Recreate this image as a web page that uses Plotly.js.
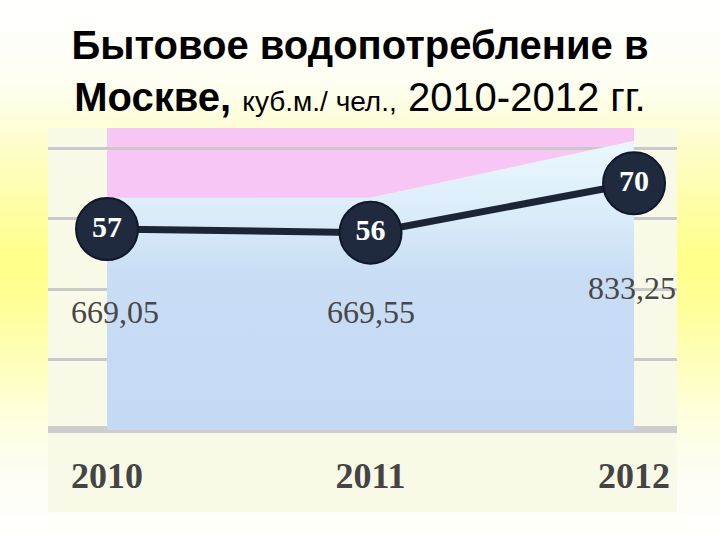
<!DOCTYPE html>
<html>
<head>
<meta charset="utf-8">
<script src="https://cdn.plot.ly/plotly-3.0.1.min.js"></script>
<style>
  html, body { margin: 0; padding: 0; }
  #wrap {
    width: 720px; height: 540px; position: relative;
    background: linear-gradient(to bottom,
      #ffffff 0%, #fefef2 15%, #fdfdd6 24%, #fefea8 37%, #ffff8a 48%,
      #ffff98 57%, #fefeb4 65%, #fefee0 78%, #fdfdf2 88%, #ffffff 100%);
  }
  #chart { width: 720px; height: 540px; }
</style>
</head>
<body>
<div id="wrap"><div id="chart"></div></div>
<script>
// ---- data ----
const years = [2010, 2011, 2012];
const yearLabels = ['2010', '2011', '2012'];
const perCapita = [57, 56, 70];                    // куб.м./чел. (line with markers)
const consumption = [669.05, 669.55, 833.25];      // area series
const consumptionLabels = ['669,05', '669,55', '833,25'];
const footer = 'Яблоков, 2014';

// ---- traces ----
const areaTrace = {
  x: years, y: consumption, yaxis: 'y',
  type: 'scatter', mode: 'lines', fill: 'tozeroy',
  line: { width: 0, color: 'rgba(0,0,0,0)' },
  fillgradient: {
    type: 'vertical',
    colorscale: [[0, '#c4d9f2'], [0.55, '#c9def5'], [0.72, '#d9ebf9'], [1, '#eaf7fd']]
  },
  hoverinfo: 'skip', showlegend: false
};

const lineTrace = {
  x: years, y: perCapita, yaxis: 'y2',
  type: 'scatter', mode: 'lines+markers+text',
  text: perCapita.map(String), textposition: 'middle center',
  textfont: { family: 'Liberation Serif, Times New Roman, serif', size: 30, color: '#ffffff', weight: 'bold' },
  line: { color: '#1c2536', width: 7 },
  marker: { size: 62, color: '#1f2a3f', line: { color: '#10172a', width: 2 } },
  cliponaxis: false, showlegend: false
};

// ---- layout ----
const labelY = [0.521, 0.521, 0.583];
const labelShift = [8, 0, -2];
const annotations = consumptionLabels.map((t, i) => ({
  text: t, x: years[i], xref: 'x', y: labelY[i], yref: 'paper',
  xshift: labelShift[i], showarrow: false,
  font: { family: 'Liberation Serif, Times New Roman, serif', size: 32, color: '#474747' }
}));
annotations.push({
  text: footer, xref: 'container', x: 0.5, yref: 'paper', y: 0.016,
  showarrow: false, font: { family: 'Liberation Sans, Arial, sans-serif', size: 12, color: '#000000' }
});

const layout = {
  width: 720, height: 540,
  margin: { l: 48, r: 43, t: 128, b: 28, pad: 0 },
  paper_bgcolor: 'rgba(0,0,0,0)',
  plot_bgcolor: '#f8fae7',
  showlegend: false,
  title: {
    text: '<b>Бытовое водопотребление в</b><br><b>Москве,</b> <span style="font-size:28px">куб.м./ чел.,</span> 2010-2012 гг.',
    font: { family: 'Liberation Sans, Arial, sans-serif', size: 40, color: '#000000' },
    x: 0.5, xref: 'container', xanchor: 'center',
    y: 0.89, yref: 'container', yanchor: 'top'
  },
  xaxis: {
    range: [2009.776, 2012.163],
    anchor: 'free', position: 0.158,
    tickmode: 'array', tickvals: years, ticktext: yearLabels,
    tickfont: { family: 'Liberation Serif, Times New Roman, serif', size: 36, color: '#444444', weight: 'bold' },
    showgrid: false, zeroline: false, showline: false, ticks: '', fixedrange: true
  },
  yaxis: {
    range: [-236, 870],
    showgrid: false, zeroline: false, showticklabels: false, ticks: '', showline: false, fixedrange: true
  },
  yaxis2: {
    range: [-23.3, 85.7], overlaying: 'y', side: 'left',
    tickmode: 'array', tickvals: [0, 20, 40, 60, 80],
    showticklabels: false, ticks: '',
    showgrid: true, gridcolor: '#c9c9c9', gridwidth: 3,
    zeroline: true, zerolinecolor: '#cdcdcd', zerolinewidth: 7,
    showline: false, fixedrange: true
  },
  shapes: [{
    type: 'rect', xref: 'x', yref: 'paper',
    x0: years[0], x1: years[years.length - 1], y0: 0.2135, y1: 1,
    fillcolor: '#f8c6f4', line: { width: 0 }, layer: 'between'
  }],
  annotations: annotations
};

Plotly.newPlot('chart', [areaTrace, lineTrace], layout, { displayModeBar: false, staticPlot: true });
</script>
</body>
</html>
